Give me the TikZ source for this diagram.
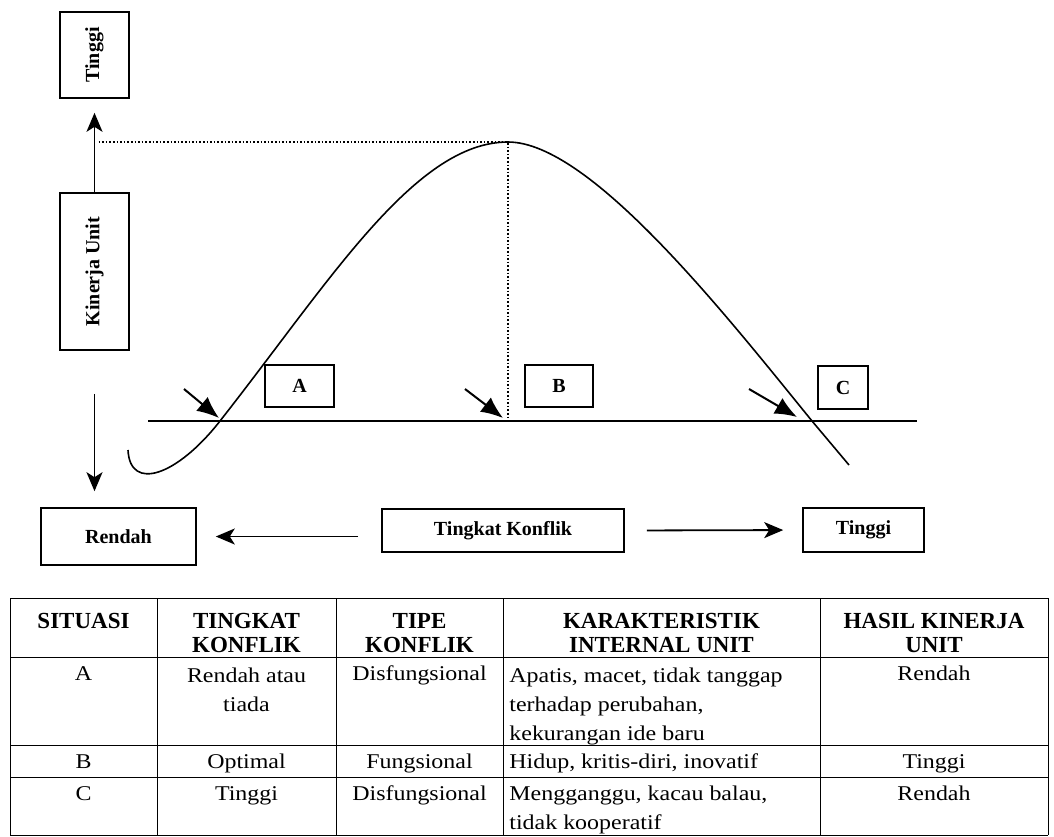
\documentclass[tikz,border=0pt]{standalone}
\usepackage{fontspec}
\setmainfont{Liberation Serif}
\newfontfamily\cellfont[FakeStretch=1.14]{Liberation Serif}
\usepackage{graphicx}
\usetikzlibrary{arrows.meta}

\begin{document}
\begin{tikzpicture}[x=0.5pt, y=-0.5pt,
  lbl/.style={draw, line width=0.8pt, font=\bfseries, inner sep=0pt},
  arr/.style={line width=0.9pt, -{Stealth[length=9.5pt, width=8pt, inset=2.5pt]}},
  ptr/.style={line width=1pt, -{Latex[length=11pt, width=9pt]}},
  grid/.style={line width=0.5pt},
  head/.style={anchor=north, inner sep=0pt, align=center,
    font=\bfseries\fontsize{11.5}{12}\selectfont, execute at begin node=\strut},
  cell/.style={anchor=north, inner sep=0pt, align=center,
    font=\cellfont\fontsize{10.5}{14.5}\selectfont, execute at begin node=\strut},
  lcell/.style={cell, anchor=north west, align=left}]

  % Fix the page size
  \useasboundingbox (0,0) rectangle (1054,836);

  % Axis boxes on the left (text turned upright)
  \node[lbl, minimum width=34.5pt, minimum height=43pt] (hiV) at (94.5,55) {\rotatebox{90}{Tinggi}};
  \node[lbl, minimum width=34.5pt, minimum height=78.5pt] (kinerja) at (94.5,271.5) {\rotatebox{90}{Kinerja Unit}};

  % Situation boxes A, B, C
  \node[lbl, minimum width=34.5pt, minimum height=21pt] (boxA) at (299.5,386) {A};
  \node[lbl, minimum width=34pt, minimum height=21pt] (boxB) at (559,386) {B};
  \node[lbl, minimum width=25pt, minimum height=21.5pt] (boxC) at (843,387.5) {C};

  % Conflict level boxes along the bottom
  \node[lbl, minimum width=77.5pt, minimum height=28.5pt] (rendah) at (118.5,536.5) {Rendah};
  \node[lbl, minimum width=121pt, minimum height=21.5pt] (konflik) at (503,530.5) {Tingkat Konflik};
  \node[lbl, minimum width=60.5pt, minimum height=22pt] (hiH) at (863.5,530) {Tinggi};

  % Up / down arrows of the performance axis
  \draw[arr, shorten >=7pt] (kinerja.north) -- (hiV.south);
  \draw[arr, shorten <=21.5pt, shorten >=8pt] (kinerja.south) -- (kinerja.south |- rendah.north);

  % Left / right arrows of the conflict axis
  \draw[arr, shorten <=11.5pt, shorten >=9.5pt] (konflik.west |- rendah.east) -- (rendah.east);
  \draw[arr, shorten <=11pt, shorten >=9.5pt] (konflik.east) -- (hiH.west);

  % Base line, crossings, top of the curve and the pointer tips
  \coordinate (base-l) at (148,421);
  \coordinate (base-r) at (917,421);
  \coordinate (xA) at (220,421);
  \coordinate (xC) at (812,421);
  \coordinate (peak) at (508,142);
  \coordinate (tipA) at (219,418);
  \coordinate (tipB) at (503,418);
  \coordinate (tipC) at (797,417);

  \draw[line width=0.8pt] (base-l) -- (base-r);

  % Performance curve
  \draw[line width=0.8pt] (128,450) .. controls (130,492) and (177,476) .. (xA)
    .. controls (330,281) and (415,142) .. (peak)
    .. controls (590,142) and (725,314) .. (xC) -- (849,465);

  % Dotted guides to the optimum
  \draw[densely dotted, line width=0.8pt] ([xshift=2pt]kinerja.north |- peak) -- (peak) -- (peak |- base-l);

  % Pointers at the three situations
  \draw[ptr] ([shift={(-35,-29)}]tipA) -- (tipA);
  \draw[ptr] ([shift={(-38,-29)}]tipB) -- (tipB);
  \draw[ptr] ([shift={(-48,-28)}]tipC) -- (tipC);

  % Table grid
  \foreach \x in {10,157,336,503,820,1048}
    \draw[grid] (\x,598) -- (\x,835);
  \foreach \y in {598,657,745,777,835}
    \draw[grid] (10,\y) -- (1048,\y);

  % Header row
  \node[head] (hSit) at (83.5,611) {SITUASI};
  \node[head] (hTkt) at (246.5,613) {TINGKAT\\KONFLIK};
  \node[head] (hTip) at (419.5,613) {TIPE\\KONFLIK};
  \node[head] (hKar) at (661.5,613) {KARAKTERISTIK\\INTERNAL UNIT};
  \node[head] (hHas) at (934,613) {HASIL KINERJA\\UNIT};

  % Row A
  \node[cell] (sitA) at (83.5,660) {A};
  \node[cell] (tktA) at (246.5,668) {Rendah atau\\tiada};
  \node[cell] (tipA-t) at (419.5,660) {Disfungsional};
  \node[lcell] (karA) at (509,668) {Apatis, macet, tidak tanggap\\terhadap perubahan,\\kekurangan ide baru};
  \node[cell] (hasA) at (934,660) {Rendah};

  % Row B
  \node[cell] (sitB) at (83.5,748) {B};
  \node[cell] (tktB) at (246.5,748) {Optimal};
  \node[cell] (tipB-t) at (419.5,748) {Fungsional};
  \node[lcell] (karB) at (509,748) {Hidup, kritis-diri, inovatif};
  \node[cell] (hasB) at (934,748) {Tinggi};

  % Row C
  \node[cell] (sitC) at (83.5,780) {C};
  \node[cell] (tktC) at (246.5,780) {Tinggi};
  \node[cell] (tipC-t) at (419.5,780) {Disfungsional};
  \node[lcell] (karC) at (509,786) {Mengganggu, kacau balau,\\tidak kooperatif};
  \node[cell] (hasC) at (934,780) {Rendah};

\end{tikzpicture}
\end{document}
